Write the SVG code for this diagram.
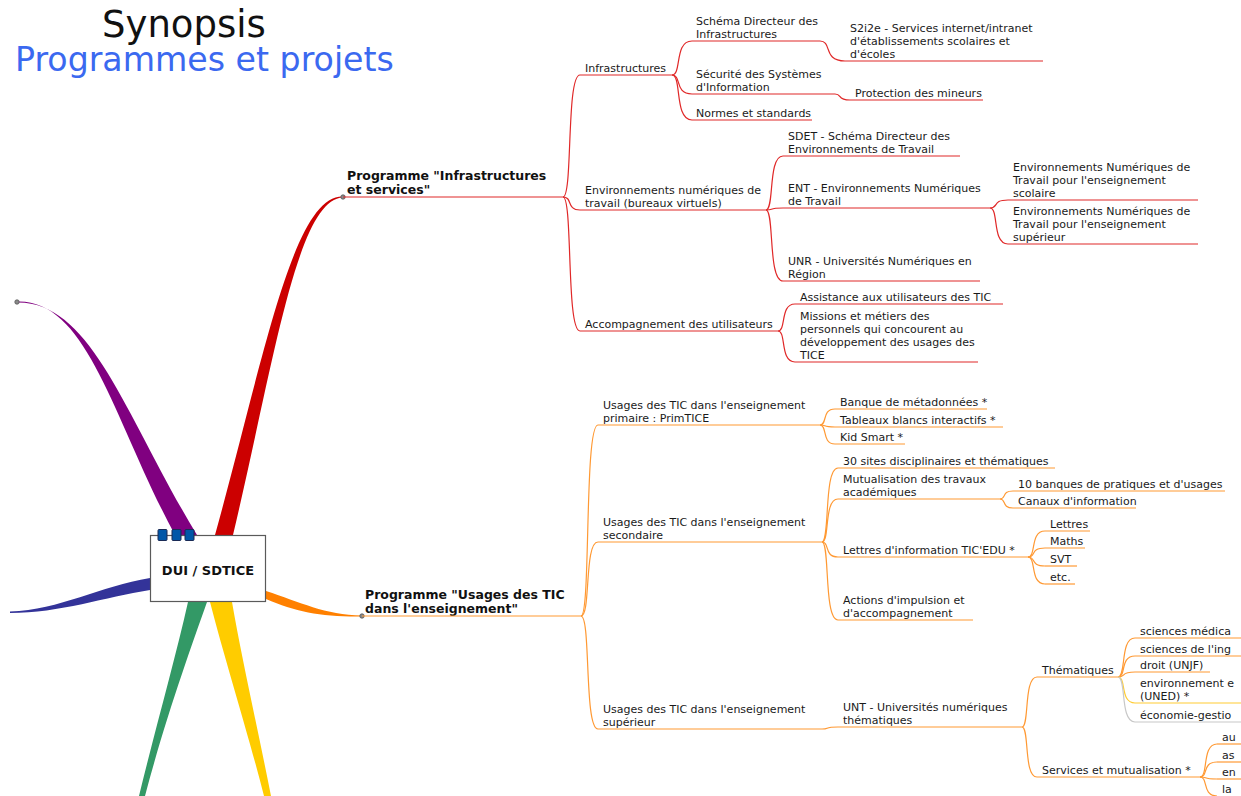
<svg xmlns="http://www.w3.org/2000/svg" width="1241" height="796" viewBox="0 0 1241 796">
<style>
.t{font-family:"DejaVu Sans","Liberation Sans",sans-serif;font-size:11px;fill:#1a1a1a}
.b{font-family:"DejaVu Sans","Liberation Sans",sans-serif;font-size:12.5px;font-weight:bold;fill:#111}
.r{stroke:#e02828;stroke-width:1.2;fill:none}
.o{stroke:#ff9933;stroke-width:1.2;fill:none}
.y{stroke:#ffcc33;stroke-width:1.2;fill:none}
.g{stroke:#c8c8c8;stroke-width:1.2;fill:none}
.dot{fill:#8a8a8a;stroke:#555;stroke-width:0.8}
.tab{fill:#0057a8;stroke:#1a2a55;stroke-width:1}
</style>
<rect width="1241" height="796" fill="#fff"/>
<g id="title">
<text x="102" y="37" style="font-family:'DejaVu Sans',sans-serif;font-size:37px;fill:#111">Synopsis</text>
<text x="15" y="71" style="font-family:'DejaVu Sans',sans-serif;font-size:33.2px;fill:#3b69f0">Programmes et projets</text>
</g>
<g id="connectors">
<path fill="#800080" d="M17 301.5 C88 299 114 422 175 535 L197 535 C126 418 92 301 17 302.5 Z"/>
<path fill="#cc0000" d="M215 535 C264 358 293 195 343 196.5 L343 197.5 C297 199 274 362 233 535 Z"/>
<path fill="#ff8000" d="M266 591 C300 602 325 615 362 615.5 L362 616.5 C322 617 296 612 266 599 Z"/>
<path fill="#333399" d="M150 578 C100 586 60 610 10 611.5 L10 613 C60 613 105 597 150 590 Z"/>
<path fill="#339966" d="M188 602 C175 660 155 730 139 796 L145 796 C165 720 190 650 207 602 Z"/>
<path fill="#ffcc00" d="M210 602 C225 660 250 740 264 796 L271 796 C258 730 242 660 232 602 Z"/>
<circle class="dot" cx="17" cy="302" r="2.2"/>
<circle class="dot" cx="343" cy="197" r="2.2"/>
<circle class="dot" cx="362" cy="616" r="2.2"/>
<path class="r" d="M563 197 C573 197 566 75 580 75"/>
<path class="r" d="M563 197 C573 197 566 210 580 210"/>
<path class="r" d="M563 197 C573 197 566 331 580 331"/>
<path class="r" d="M672 75 C682 75 674 41 692 41"/>
<path class="r" d="M672 75 C682 75 674 94 692 94"/>
<path class="r" d="M672 75 C682 75 674 120 692 120"/>
<path class="r" d="M820 41 C832.5 41 822.5 61 845 61"/>
<path class="r" d="M835 94 C842.5 94 836.5 100 850 100"/>
<path class="r" d="M766 210 C774.5 210 767.7 156 783 156"/>
<path class="r" d="M766 210 C774.5 210 767.7 208 783 208"/>
<path class="r" d="M766 210 C774.5 210 767.7 281 783 281"/>
<path class="r" d="M990 208 C999 208 991.8 200 1008 200"/>
<path class="r" d="M990 208 C999 208 991.8 244 1008 244"/>
<path class="r" d="M778 331 C786.5 331 779.7 304 795 304"/>
<path class="r" d="M778 331 C786.5 331 779.7 362 795 362"/>
<path class="o" d="M581 616 C591 616 584 425 598 425"/>
<path class="o" d="M581 616 C591 616 584 542 598 542"/>
<path class="o" d="M581 616 C591 616 584 729 598 729"/>
<path class="o" d="M820 425 C827.5 425 821.5 409 835 409"/>
<path class="o" d="M820 425 C827.5 425 821.5 427 835 427"/>
<path class="o" d="M820 425 C827.5 425 821.5 444 835 444"/>
<path class="o" d="M822 542 C830 542 823.6 468 838 468"/>
<path class="o" d="M822 542 C830 542 823.6 499 838 499"/>
<path class="o" d="M822 542 C830 542 823.6 557 838 557"/>
<path class="o" d="M822 542 C830 542 823.6 620 838 620"/>
<path class="o" d="M1000 499 C1006.5 499 1001.3 491 1013 491"/>
<path class="o" d="M1000 499 C1006.5 499 1001.3 508 1013 508"/>
<path class="o" d="M1028 557 C1036.5 557 1029.7 531 1045 531"/>
<path class="o" d="M1028 557 C1036.5 557 1029.7 548 1045 548"/>
<path class="o" d="M1028 557 C1036.5 557 1029.7 566 1045 566"/>
<path class="o" d="M1028 557 C1036.5 557 1029.7 584 1045 584"/>
<path class="o" d="M822 729 C830 729 823.6 727 838 727"/>
<path class="o" d="M1022 727 C1029.5 727 1023.5 677 1037 677"/>
<path class="o" d="M1022 727 C1029.5 727 1023.5 777 1037 777"/>
<path class="o" d="M1118 677 C1126.5 677 1119.7 638 1135 638"/>
<path class="o" d="M1118 677 C1126.5 677 1119.7 656 1135 656"/>
<path class="o" d="M1118 677 C1126.5 677 1119.7 672 1135 672"/>
<path class="y" d="M1118 677 C1126.5 677 1119.7 703 1135 703"/>
<path class="g" d="M1118 677 C1126.5 677 1119.7 722 1135 722"/>
<path class="o" d="M1200 777 C1208.5 777 1201.7 744 1217 744"/>
<path class="o" d="M1200 777 C1208.5 777 1201.7 762 1217 762"/>
<path class="o" d="M1200 777 C1208.5 777 1201.7 779 1217 779"/>
<path class="o" d="M1200 777 C1208.5 777 1201.7 796 1217 796"/>
</g>
<g id="central">
<rect x="150.5" y="535.5" width="115" height="66" fill="#fff" stroke="#5a5a5a" stroke-width="1.2"/>
<rect class="tab" x="158" y="529.5" width="9" height="11" rx="1"/>
<rect class="tab" x="172" y="529.5" width="9" height="11" rx="1"/>
<rect class="tab" x="185" y="529.5" width="9" height="11" rx="1"/>
<text class="b" x="208" y="575" text-anchor="middle" style="font-size:13px">DUI / SDTICE</text>
</g>
<g id="prog-infra"><text class="b"><tspan x="347" y="180">Programme "Infrastructures</tspan><tspan x="347" y="194">et services"</tspan></text><path class="r" d="M343 197 H563"/></g>
<g id="infra"><text class="t" x="585" y="72">Infrastructures</text><path class="r" d="M580 75 H672"/></g>
<g id="sdi"><text class="t"><tspan x="696" y="25">Schéma Directeur des</tspan><tspan x="696" y="38">Infrastructures</tspan></text><path class="r" d="M692 41 H820"/></g>
<g id="s2i2e"><text class="t"><tspan x="850" y="32">S2i2e - Services internet/intranet</tspan><tspan x="850" y="45">d'établissements scolaires et</tspan><tspan x="850" y="58">d'écoles</tspan></text><path class="r" d="M845 61 H1043"/></g>
<g id="ssi"><text class="t"><tspan x="696" y="78">Sécurité des Systèmes</tspan><tspan x="696" y="91">d'Information</tspan></text><path class="r" d="M692 94 H835"/></g>
<g id="protection"><text class="t" x="855" y="97">Protection des mineurs</text><path class="r" d="M850 100 H983"/></g>
<g id="normes"><text class="t" x="696" y="117">Normes et standards</text><path class="r" d="M692 120 H812"/></g>
<g id="env"><text class="t"><tspan x="585" y="194">Environnements numériques de</tspan><tspan x="585" y="207">travail (bureaux virtuels)</tspan></text><path class="r" d="M580 210 H766"/></g>
<g id="sdet"><text class="t"><tspan x="788" y="140">SDET - Schéma Directeur des</tspan><tspan x="788" y="153">Environnements de Travail</tspan></text><path class="r" d="M783 156 H960"/></g>
<g id="ent"><text class="t"><tspan x="788" y="192">ENT - Environnements Numériques</tspan><tspan x="788" y="205">de Travail</tspan></text><path class="r" d="M783 208 H990"/></g>
<g id="ent-scol"><text class="t"><tspan x="1013" y="171">Environnements Numériques de</tspan><tspan x="1013" y="184">Travail pour l'enseignement</tspan><tspan x="1013" y="197">scolaire</tspan></text><path class="r" d="M1008 200 H1198"/></g>
<g id="ent-sup"><text class="t"><tspan x="1013" y="215">Environnements Numériques de</tspan><tspan x="1013" y="228">Travail pour l'enseignement</tspan><tspan x="1013" y="241">supérieur</tspan></text><path class="r" d="M1008 244 H1198"/></g>
<g id="unr"><text class="t"><tspan x="788" y="265">UNR - Universités Numériques en</tspan><tspan x="788" y="278">Région</tspan></text><path class="r" d="M783 281 H980"/></g>
<g id="accomp"><text class="t" x="585" y="328">Accompagnement des utilisateurs</text><path class="r" d="M580 331 H778"/></g>
<g id="assist"><text class="t" x="800" y="301">Assistance aux utilisateurs des TIC</text><path class="r" d="M795 304 H1003"/></g>
<g id="missions"><text class="t"><tspan x="800" y="320">Missions et métiers des</tspan><tspan x="800" y="333">personnels qui concourent au</tspan><tspan x="800" y="346">développement des usages des</tspan><tspan x="800" y="359">TICE</tspan></text><path class="r" d="M795 362 H978"/></g>
<g id="prog-usages"><text class="b"><tspan x="365" y="599">Programme "Usages des TIC</tspan><tspan x="365" y="613">dans l'enseignement"</tspan></text><path class="o" d="M362 616 H581"/></g>
<g id="primaire"><text class="t"><tspan x="603" y="409">Usages des TIC dans l'enseignement</tspan><tspan x="603" y="422">primaire : PrimTICE</tspan></text><path class="o" d="M598 425 H820"/></g>
<g id="banque"><text class="t" x="840" y="406">Banque de métadonnées *</text><path class="o" d="M835 409 H987"/></g>
<g id="tableaux"><text class="t" x="840" y="424">Tableaux blancs interactifs *</text><path class="o" d="M835 427 H1003"/></g>
<g id="kidsmart"><text class="t" x="840" y="441">Kid Smart *</text><path class="o" d="M835 444 H905"/></g>
<g id="secondaire"><text class="t"><tspan x="603" y="526">Usages des TIC dans l'enseignement</tspan><tspan x="603" y="539">secondaire</tspan></text><path class="o" d="M598 542 H822"/></g>
<g id="sites30"><text class="t" x="843" y="465">30 sites disciplinaires et thématiques</text><path class="o" d="M838 468 H1055"/></g>
<g id="mutual"><text class="t"><tspan x="843" y="483">Mutualisation des travaux</tspan><tspan x="843" y="496">académiques</tspan></text><path class="o" d="M838 499 H1000"/></g>
<g id="banques10"><text class="t" x="1018" y="488">10 banques de pratiques et d'usages</text><path class="o" d="M1013 491 H1225"/></g>
<g id="canaux"><text class="t" x="1018" y="505">Canaux d'information</text><path class="o" d="M1013 508 H1136"/></g>
<g id="lettres-info"><text class="t" x="843" y="554">Lettres d'information TIC'EDU *</text><path class="o" d="M838 557 H1028"/></g>
<g id="lettres"><text class="t" x="1050" y="528">Lettres</text><path class="o" d="M1045 531 H1090"/></g>
<g id="maths"><text class="t" x="1050" y="545">Maths</text><path class="o" d="M1045 548 H1085"/></g>
<g id="svt"><text class="t" x="1050" y="563">SVT</text><path class="o" d="M1045 566 H1077"/></g>
<g id="etc"><text class="t" x="1050" y="581">etc.</text><path class="o" d="M1045 584 H1075"/></g>
<g id="actions"><text class="t"><tspan x="843" y="604">Actions d'impulsion et</tspan><tspan x="843" y="617">d'accompagnement</tspan></text><path class="o" d="M838 620 H973"/></g>
<g id="superieur"><text class="t"><tspan x="603" y="713">Usages des TIC dans l'enseignement</tspan><tspan x="603" y="726">supérieur</tspan></text><path class="o" d="M598 729 H822"/></g>
<g id="unt"><text class="t"><tspan x="843" y="711">UNT - Universités numériques</tspan><tspan x="843" y="724">thématiques</tspan></text><path class="o" d="M838 727 H1022"/></g>
<g id="thematiques"><text class="t" x="1042" y="674">Thématiques</text><path class="o" d="M1037 677 H1118"/></g>
<g id="sc-med"><text class="t" x="1140" y="635">sciences médica</text><path class="o" d="M1135 638 H1241"/></g>
<g id="sc-ing"><text class="t" x="1140" y="653">sciences de l'ing</text><path class="o" d="M1135 656 H1241"/></g>
<g id="droit"><text class="t" x="1140" y="669">droit (UNJF)</text><path class="o" d="M1135 672 H1210"/></g>
<g id="environnement"><text class="t"><tspan x="1140" y="687">environnement e</tspan><tspan x="1140" y="700">(UNED) *</tspan></text><path class="y" d="M1135 703 H1241"/></g>
<g id="economie"><text class="t" x="1140" y="719">économie-gestio</text><path class="g" d="M1135 722 H1241"/></g>
<g id="services"><text class="t" x="1042" y="774">Services et mutualisation *</text><path class="o" d="M1037 777 H1200"/></g>
<g id="s-au"><text class="t" x="1222" y="741">au</text><path class="o" d="M1217 744 H1241"/></g>
<g id="s-as"><text class="t" x="1222" y="759">as</text><path class="o" d="M1217 762 H1241"/></g>
<g id="s-en"><text class="t" x="1222" y="776">en</text><path class="o" d="M1217 779 H1241"/></g>
<g id="s-la"><text class="t" x="1222" y="793">la</text></g>
</svg>
